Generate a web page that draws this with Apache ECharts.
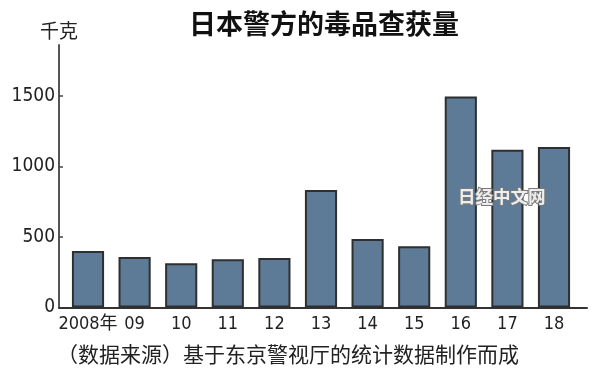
<!DOCTYPE html>
<html>
<head>
<meta charset="utf-8">
<script src="https://cdn.jsdelivr.net/npm/echarts@6/dist/echarts.min.js"></script>
<style>html,body{margin:0;padding:0;background:#fff;}#c{width:600px;height:383px;}</style>
</head>
<body>
<div id="c"></div>
<script>
const categories = ['2008年', '09', '10', '11', '12', '13', '14', '15', '16', '17', '18'];
const seizures = [400, 358, 313, 342, 351, 833, 486, 434, 1495, 1117, 1138];
const yTicks = [0, 500, 1000, 1500];
const titleText = '日本警方的毒品查获量';
const unitText = '千克';
const sourceText = '（数据来源）基于东京警视厅的统计数据制作而成';
const watermarkText = '日经中文网';

const numFont = "'Liberation Sans Narrow', 'DejaVu Sans Condensed', 'Noto Sans CJK SC', sans-serif";
const cjkFont = "'Noto Sans CJK SC', sans-serif";

const chart = echarts.init(document.getElementById('c'), null, {renderer: 'canvas'});
chart.setOption({
  backgroundColor: '#fff',
  animation: false,
  title: {
    text: titleText,
    left: 319, top: 5, textAlign: 'center',
    textStyle: {fontFamily: cjkFont, fontSize: 27, fontWeight: 'bold', color: '#111'}
  },
  grid: [
    {left: 64.7, right: 22.7, top: 45, bottom: 75.5},
    {left: 59, right: 13, top: 45, bottom: 75.5}
  ],
  xAxis: [
    {
      type: 'category', gridIndex: 0, data: categories,
      axisLine: {show: false}, axisTick: {show: false},
      axisLabel: {fontFamily: numFont, fontSize: 18, color: '#222', margin: 8, interval: 0}
    },
    {
      type: 'value', gridIndex: 1, min: 0, max: 1,
      axisLine: {show: true, onZero: false, lineStyle: {color: '#333', width: 2}},
      axisTick: {show: false}, axisLabel: {show: false}, splitLine: {show: false}
    }
  ],
  yAxis: [
    {
      type: 'value', gridIndex: 0, min: 0, max: 1860, offset: 5.7,
      name: unitText, nameLocation: 'end', nameGap: 5,
      nameTextStyle: {fontFamily: cjkFont, fontSize: 19, color: '#222', align: 'center', verticalAlign: 'bottom'},
      axisLine: {show: true, lineStyle: {color: '#555', width: 2}},
      axisTick: {show: true, inside: true, length: 4, customValues: yTicks.slice(1), lineStyle: {color: '#444', width: 1.5}},
      axisLabel: {customValues: yTicks, formatter: v => String(v), fontFamily: numFont, fontSize: 19, color: '#222', margin: 4},
      splitLine: {show: false}
    },
    {
      type: 'value', gridIndex: 1, show: false
    }
  ],
  series: [
    {
      type: 'bar', xAxisIndex: 0, yAxisIndex: 0, data: seizures,
      barCategoryGap: '31%',
      itemStyle: {color: '#5d7b97', borderColor: '#2f2f2f', borderWidth: 2}
    }
  ],
  graphic: [
    {
      type: 'text', left: 57, top: 344,
      style: {text: sourceText, font: "21px 'Noto Sans CJK SC', sans-serif", fill: '#222'}
    },
    {
      type: 'text', left: 457, top: 187, z: 100,
      style: {text: watermarkText, font: "bold 17.5px 'Noto Sans CJK SC', sans-serif", fill: '#eeeeee', stroke: '#7a7a7a', lineWidth: 2}
    }
  ]
});
</script>
</body>
</html>
